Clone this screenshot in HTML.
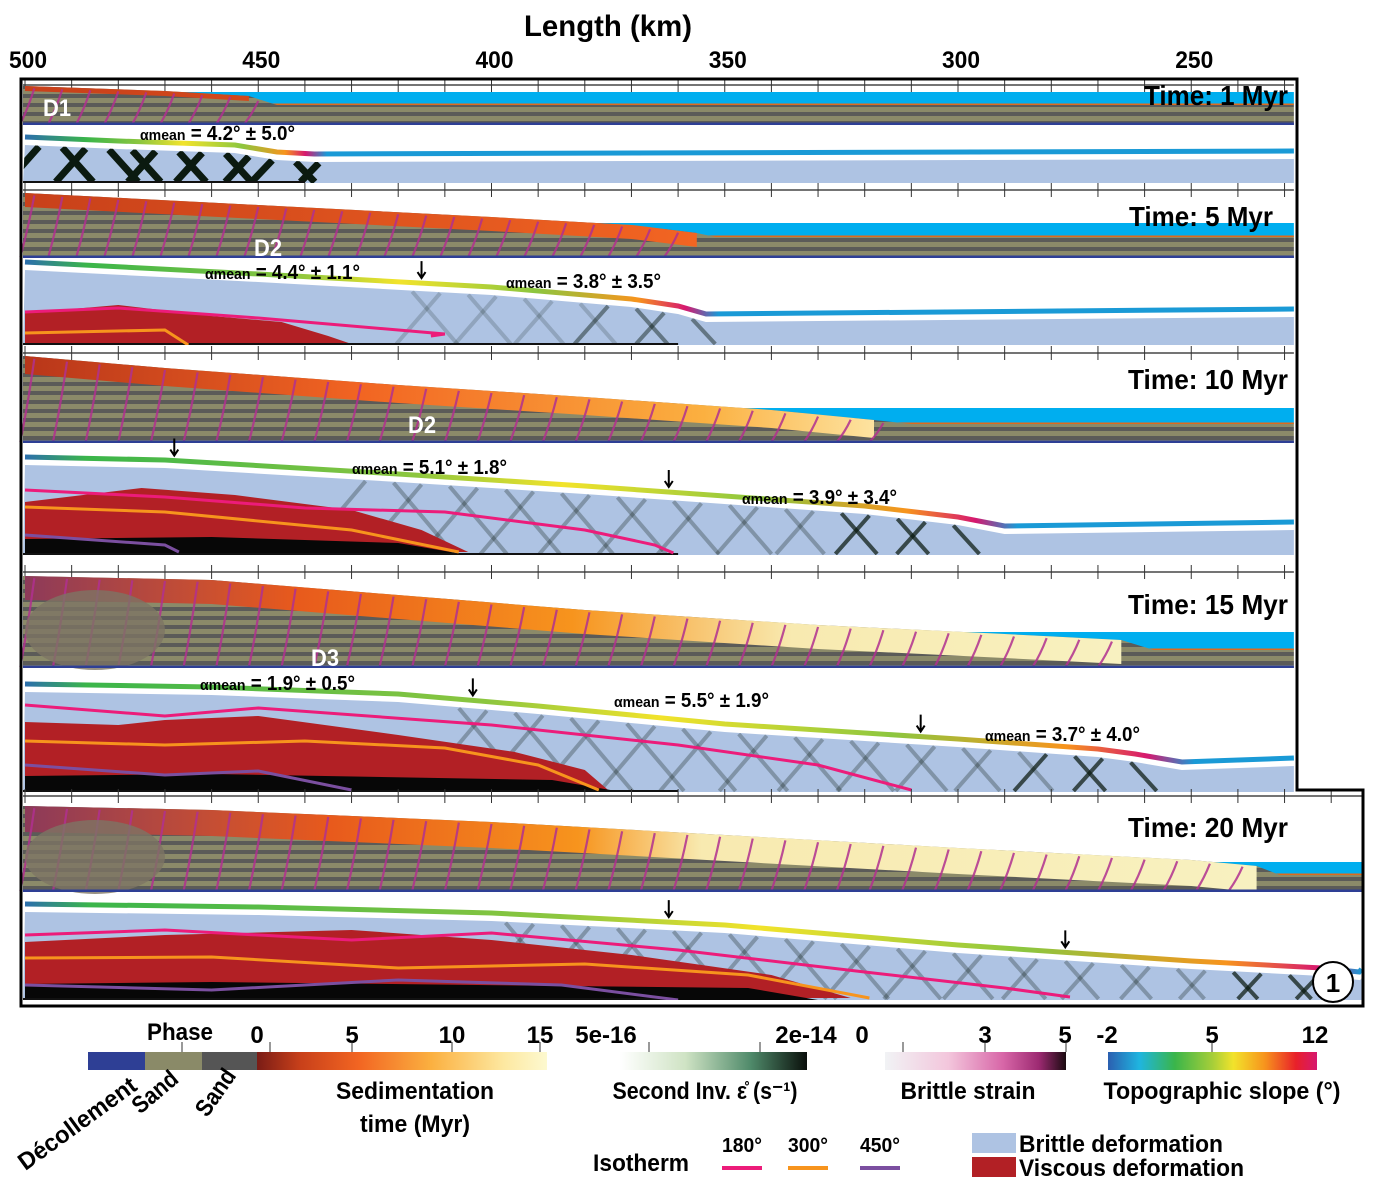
<!DOCTYPE html>
<html><head><meta charset="utf-8"><style>
html,body{margin:0;padding:0;background:#fff;}
svg{display:block;}
text{font-family:"Liberation Sans",sans-serif;font-weight:bold;}
</style></head><body>
<svg id="fig" width="1378" height="1189" viewBox="0 0 1378 1189" xmlns="http://www.w3.org/2000/svg">
<defs>
<pattern id="strata" width="40" height="9" patternUnits="userSpaceOnUse">
<rect width="40" height="9" fill="#8b8a69"/><rect y="4" width="40" height="4" fill="#5b5b58"/>
</pattern>
<linearGradient id="sedGrad" x1="0" x2="1" y1="0" y2="0">
<stop offset="0" stop-color="#7a1c16"/><stop offset="0.15" stop-color="#c8401a"/><stop offset="0.35" stop-color="#f26522"/><stop offset="0.6" stop-color="#fbb040"/><stop offset="0.85" stop-color="#fde8a0"/><stop offset="1" stop-color="#fdf9d0"/>
</linearGradient>
<linearGradient id="srGrad" x1="0" x2="1"><stop offset="0" stop-color="#fff"/><stop offset="0.35" stop-color="#cfe3c4"/><stop offset="0.7" stop-color="#4f8a6a"/><stop offset="1" stop-color="#0a0f0b"/></linearGradient>
<linearGradient id="bsGrad" x1="0" x2="1"><stop offset="0" stop-color="#f1f3f5"/><stop offset="0.35" stop-color="#f3c6dc"/><stop offset="0.65" stop-color="#d867a8"/><stop offset="0.85" stop-color="#9d2a72"/><stop offset="1" stop-color="#1a0a10"/></linearGradient>
<linearGradient id="tsGrad" x1="0" x2="1"><stop offset="0" stop-color="#2b5fb0"/><stop offset="0.15" stop-color="#1fb5e0"/><stop offset="0.32" stop-color="#3ab54a"/><stop offset="0.5" stop-color="#a6ce39"/><stop offset="0.6" stop-color="#f2e32b"/><stop offset="0.75" stop-color="#f7941d"/><stop offset="0.9" stop-color="#e8202a"/><stop offset="1" stop-color="#d6186f"/></linearGradient>
</defs>
<g id="panels"></g>
<g id="legend"></g>
</svg>
<script>
// ---- data ----
const kmTicks = [500, 450, 400, 350, 300, 250];
const timeLabels = ["Time: 1 Myr", "Time: 5 Myr", "Time: 10 Myr", "Time: 15 Myr", "Time: 20 Myr"];
const upperTopo1 = [[500,86],[470,91],[452,96],[446,105]];
const upperTopo2 = [[500,193],[450,205],[400,217],[370,225],[356,233],[352,237]];
const upperTopo3 = [[500,356],[470,368],[420,385],[380,397],[340,410],[318,420],[310,424]];
const upperTopo4 = [[500,576],[460,580],[420,595],[380,610],[330,625],[290,634],[265,640],[258,650]];
const upperTopo5 = [[500,806],[460,810],[400,822],[350,835],[300,848],[250,860],[236,866],[231,875]];
const lowerSurf1 = [[500,143],[480,147],[455,151],[446,158],[438,160]];
const lowerSurf2 = [[500,268],[450,280],[400,293],[370,305],[360,312],[354,320]];
const lowerSurf3 = [[500,463],[470,466],[420,480],[380,492],[320,512],[300,523],[290,532]];
const lowerSurf4 = [[500,690],[460,693],[420,700],[390,712],[350,730],[300,745],[270,755],[262,760],[252,768]];
const lowerSurf5 = [[500,910],[450,913],[400,919],[350,931],[300,951],[250,967],[222,974],[214,978]];
const alphaLabels = [
 [["4.2° ± 5.0°",140,140]],
 [["4.4° ± 1.1°",205,279],["3.8° ± 3.5°",506,288]],
 [["5.1° ± 1.8°",352,474],["3.9° ± 3.4°",742,504]],
 [["1.9° ± 0.5°",200,690],["5.5° ± 1.9°",614,707],["3.7° ± 4.0°",985,741]],
 []];
const arrowKm = [[], [415], [468, 362], [404, 308], [362, 277]];
const isoPink = [null, [[500,312],[480,308],[450,318],[410,334],[413,336]],
 [[500,490],[470,497],[440,508],[410,512],[380,530],[365,545],[361,553]],
 [[500,705],[470,716],[450,708],[400,725],[360,745],[330,765],[310,790]],
 [[500,935],[470,930],[430,940],[400,933],[360,950],[320,972],[290,988],[276,997]]];
const isoOrange = [null, [[500,333],[470,330],[465,345]],
 [[500,507],[470,512],[430,530],[407,552]],
 [[500,741],[470,745],[440,741],[410,748],[390,765],[377,790]],
 [[500,958],[460,957],[420,968],[380,964],[345,975],[319,998]]];
const isoPurple = [null, null, [[500,535],[470,545],[467,552]],
 [[500,765],[470,775],[450,771],[430,790]],
 [[500,985],[460,990],[420,980],[385,985],[360,1000]]];
const viscousPoly = [null, [[500,313],[480,305],[460,316],[445,322],[435,336],[430,344],[500,344]],
 [[500,502],[475,488],[455,495],[430,510],[415,530],[405,552],[500,552]],
 [[500,722],[480,725],[470,720],[450,716],[420,735],[395,752],[380,770],[375,790],[500,790]],
 [[500,942],[470,935],[430,930],[400,940],[370,955],[340,975],[323,998],[500,998]]];
const blackEnd = [null, null, 405, 372, 330];
const strainRange = [[500,432,1],[420,352,0.5],[430,300,0.8],[410,258,0.8],[400,220,0.8]];
// ---- geometry ----
const X = km => 25 + (500 - km) * 4.665;
const panelGeom = [
 {tick:85, wTop:92, lTop:105, uBot:125, lBot:183, flatY:157, rightKm:228},
 {tick:190, wTop:223, lTop:237, uBot:258, lBot:345, flatY:315, rightKm:228},
 {tick:353, wTop:408, lTop:424, uBot:443, lBot:555, flatY:528, rightKm:228},
 {tick:572, wTop:632, lTop:650, uBot:668, lBot:792, flatY:764, rightKm:228},
 {tick:796, wTop:862, lTop:875, uBot:892, lBot:1000, flatY:975, rightKm:213.5}];
const upperTopos=[upperTopo1,upperTopo2,upperTopo3,upperTopo4,upperTopo5];
const lowerSurfs=[lowerSurf1,lowerSurf2,lowerSurf3,lowerSurf4,lowerSurf5];
const capH=[5,14,18,24,26];
const NS="http://www.w3.org/2000/svg";
function mk(tag, attrs, parent){const e=document.createElementNS(NS,tag);for(const k in attrs)e.setAttribute(k,attrs[k]);parent.appendChild(e);return e;}
const P=document.getElementById('panels'), L=document.getElementById('legend');
const defs=document.querySelector('defs');
const pts = arr => arr.map(p=>X(p[0]).toFixed(1)+","+p[1]).join(" ");

let t=mk('text',{x:608,y:36,'font-size':30,'text-anchor':'middle',textLength:168,lengthAdjust:'spacingAndGlyphs'},P);t.textContent="Length (km)";


kmTicks.forEach(k=>{const e=mk('text',{x:X(k)+3,y:68,'font-size':24,'text-anchor':'middle',textLength:38,lengthAdjust:'spacingAndGlyphs'},P);e.textContent=k;

});

function yAt(line,k){let y0=line[0][1];for(let j=1;j<line.length;j++){if(k>=line[j][0]){const a=line[j-1],b=line[j];return a[1]+(b[1]-a[1])*(a[0]-k)/(a[0]-b[0]);}}return line[line.length-1][1];}

panelGeom.forEach((g,i)=>{
 const grp=mk('g',{},P);
 
 
 const xr=X(g.rightKm), xl=23;
 const topo=upperTopos[i], surf=lowerSurfs[i];
 mk('line',{x1:xl,x2:xr,y1:g.tick,y2:g.tick,stroke:'#222','stroke-width':1.2},grp);
 for(let k=500;k>=g.rightKm;k-=10){const x=X(k);mk('line',{x1:x,x2:x,y1:g.tick-7,y2:g.tick+7,stroke:'#333','stroke-width':1},grp);}
 mk('rect',{x:xl,y:g.wTop,width:xr-xl,height:g.lTop-g.wTop,fill:'#00aeef'},grp);
 mk('rect',{x:xl,y:g.lTop,width:xr-xl,height:g.uBot-g.lTop,fill:'url(#strata)'},grp);
 mk('rect',{x:xl,y:g.lTop-1.5,width:xr-xl,height:1.5,fill:'#e06a1c'},grp);
 const wp=pts(topo)+" "+X(topo[topo.length-1][0])+","+g.uBot+" "+xl+","+g.uBot+" "+xl+","+topo[0][1];
 mk('polygon',{points:wp,fill:'url(#strata)'},grp);
 const capTop=topo.slice(0,-1), ch=capH[i];
 const capPts=pts(capTop)+" "+capTop.slice().reverse().map(p=>X(p[0]).toFixed(1)+","+(p[1]+ch)).join(" ");
 const gid='cap'+i;const lg=mk('linearGradient',{id:gid,gradientUnits:'userSpaceOnUse',x1:xl,x2:X(capTop[capTop.length-1][0]),y1:0,y2:0},defs);
 const cstops=[[['#c8401a',0],['#d2491c',1]],[['#c8401a',0],['#f26522',1]],[['#b8361a',0],['#f26522',0.4],['#fbb040',0.8],['#fde3a0',1]],[['#8c3a5a',0],['#e85a1c',0.25],['#f7941d',0.5],['#f8eab0',0.7],['#f8f1c0',1]],[['#8c3a5a',0],['#e85a1c',0.25],['#f7941d',0.45],['#f8eab0',0.55],['#f8f1c0',1]]][i];
 cstops.forEach(s=>mk('stop',{offset:s[1],'stop-color':s[0]},lg));
 mk('polygon',{points:capPts,fill:'url(#'+gid+')'},grp);
 const endKm=topo[topo.length-1][0];
 for(let k=498;k>endKm+3;k-=(i<2?6:7)){
  const y0=yAt(topo,k);
  mk('path',{d:`M${X(k)},${y0+2} q-6,${(g.uBot-y0)/2} -14,${g.uBot-y0-3}`,stroke:'#b0308f','stroke-width':2.2,fill:'none',opacity:0.85},grp);
 }
 if(i>=3){mk('ellipse',{cx:X(485),cy:(topo[0][1]+g.uBot)/2+8,rx:70,ry:(g.uBot-topo[0][1])/2-6,fill:'#7d7464',opacity:0.8},grp);}
 mk('rect',{x:xl,y:g.uBot-2.5,width:xr-xl,height:2.5,fill:'#2e3f95'},grp);
 // lower section
 const lsurf=surf.concat([[g.rightKm,g.flatY]]);
 const lowerPts=pts(lsurf)+" "+xr+","+g.lBot+" "+xl+","+g.lBot;
 const cp=mk('clipPath',{id:'clip'+i},defs);mk('polygon',{points:lowerPts},cp);
 mk('polygon',{points:lowerPts,fill:'#aec3e3'},grp);
 const lg2=mk('g',{'clip-path':'url(#clip'+i+')'},grp);
 const sr=strainRange[i];
 for(let k=sr[0]-3;k>sr[1];k-=(i==0?5:6)){
  const y0=yAt(lsurf,k);
  const h=g.lBot-y0, dir=((Math.round(k/6))%2==0)?1:-1;
  mk('line',{x1:X(k),y1:y0+3,x2:X(k)+dir*h*0.8,y2:g.lBot-1,stroke:'#0b1a10','stroke-width':i==0?7:4,opacity:sr[2]*(i==0?1:(k>sr[1]+25?0.35:0.9))},lg2);
 }
 if(viscousPoly[i]){mk('polygon',{points:pts(viscousPoly[i]),fill:'#b22025'},lg2);}
 if(blackEnd[i]){const be=blackEnd[i];mk('polygon',{points:pts([[500,g.lBot-16],[460,g.lBot-18],[be+15,g.lBot-12],[be,g.lBot],[500,g.lBot]]),fill:'#070707'},lg2);}
 mk('rect',{x:xl,y:g.lBot-2,width:X(i==0?440:360)-xl,height:2,fill:'#111'},lg2);
 [[isoPink,'#ec1c7a'],[isoOrange,'#f7941d'],[isoPurple,'#7b4fa0']].forEach(([arr,c])=>{if(arr[i])mk('polyline',{points:pts(arr[i]),fill:'none',stroke:c,'stroke-width':3},lg2);});
 mk('polyline',{points:pts(lsurf),fill:'none',stroke:'#fff','stroke-width':4},grp);
 const sg='slope'+i;const sl=mk('linearGradient',{id:sg,gradientUnits:'userSpaceOnUse',x1:xl,x2:xr,y1:0,y2:0},defs);
 const ex=(X(surf[surf.length-1][0])-xl)/(xr-xl);
 [['#2b6cb0',0],['#3ab54a',0.05],['#8cc63f',ex*0.4],['#f2e32b',ex*0.55],['#8cc63f',ex*0.75],['#f7941d',ex*0.9],['#d6186f',ex*0.97],['#1a9ad6',ex+0.01],['#1a9ad6',1]].forEach(s=>mk('stop',{offset:Math.min(1,s[1]),'stop-color':s[0]},sl));
 mk('polyline',{points:lsurf.map(p=>X(p[0]).toFixed(1)+","+(p[1]-6)).join(" "),fill:'none',stroke:'url(#'+sg+')','stroke-width':5},grp);
 const tl=mk('text',{x:i==1?1273:1288,y:[105,226,389,614,837][i],'font-size':28,'text-anchor':'end',textLength:(i<2?144:160),lengthAdjust:'spacingAndGlyphs'},grp);tl.textContent=timeLabels[i];
 
 
 alphaLabels[i].forEach(a=>{const tx=mk('text',{x:a[1],y:a[2],'font-size':20,textLength:155,lengthAdjust:'spacingAndGlyphs'},grp);
  const s1=mk('tspan',{'font-size':15},tx);s1.textContent="αmean";const s2=mk('tspan',{},tx);s2.textContent=" = "+a[0];
  
  });
 arrowKm[i].forEach(k=>{const ay=yAt(lsurf,k);
  const ar=mk('path',{d:`M${X(k)},${ay-28} V${ay-12} M${X(k)-4},${ay-17} L${X(k)},${ay-11} L${X(k)+4},${ay-17}`,stroke:'#000','stroke-width':2,fill:'none'},grp);
  
  });
});
[["D1",43,116],["D2",254,256],["D2",408,433],["D3",311,666]].forEach(d=>{const e=mk('text',{x:d[1],y:d[2],'font-size':24,fill:'#fff',textLength:28,lengthAdjust:'spacingAndGlyphs'},P);e.textContent=d[0];

});
const fr=mk('path',{d:'M21,79 H1297 V790 H1363 V1006 H21 Z',fill:'none',stroke:'#000','stroke-width':3},P);


mk('circle',{cx:1333,cy:982,r:20,fill:'#fff',stroke:'#000','stroke-width':2},P);
const c1=mk('text',{x:1333,y:992,'font-size':26,'font-weight':'normal','text-anchor':'middle'},P);c1.textContent="1";



// legend
function txt(s,x,y,fs,anchor,extra){const e=mk('text',Object.assign({x:x,y:y,'font-size':fs,'text-anchor':anchor||'middle'},extra||{}),L);e.textContent=s;return e;}
mk('rect',{x:88,y:1052,width:57,height:18,fill:'#2e3f95'},L);
mk('rect',{x:145,y:1052,width:57,height:18,fill:'#8a8a68'},L);
mk('rect',{x:202,y:1052,width:55,height:18,fill:'#555'},L);
mk('rect',{x:257,y:1052,width:290,height:18,fill:'url(#sedGrad)'},L);
mk('rect',{x:620,y:1052,width:187,height:18,fill:'url(#srGrad)'},L);
mk('rect',{x:885,y:1052,width:181,height:18,fill:'url(#bsGrad)'},L);
mk('rect',{x:1108,y:1052,width:209,height:18,fill:'url(#tsGrad)'},L);
let e;
e=txt("Phase",180,1040,24,'middle',{textLength:66,lengthAdjust:'spacingAndGlyphs'});
[["0",257],["5",352],["10",452],["15",540],["5e-16",606],["2e-14",806],["0",862],["3",985],["5",1065],["-2",1107],["5",1212],["12",1315]].forEach(a=>{e=txt(a[0],a[1],1043,24);

});
[182,270,352,452,540,649,760,903,985,1066,1212].forEach(x=>mk('line',{x1:x,x2:x,y1:1042,y2:1052,stroke:'#333','stroke-width':1},L));
e=txt("Décollement",82,1130,24,'middle',{transform:'rotate(-36 82 1130)',textLength:140,lengthAdjust:'spacingAndGlyphs'});
e=txt("Sand",160,1098,24,'middle',{transform:'rotate(-40 160 1098)',textLength:52,lengthAdjust:'spacingAndGlyphs'});
e=txt("Sand",222,1097,24,'middle',{transform:'rotate(-55 222 1097)',textLength:52,lengthAdjust:'spacingAndGlyphs'});
e=txt("Sedimentation",415,1099,24,'middle',{textLength:158,lengthAdjust:'spacingAndGlyphs'});
e=txt("time (Myr)",415,1132,24,'middle',{textLength:110,lengthAdjust:'spacingAndGlyphs'});
e=txt("Second Inv. ε̊ (s⁻¹)",705,1099,24,'middle',{textLength:185,lengthAdjust:'spacingAndGlyphs'});
e=txt("Brittle strain",968,1099,24,'middle',{textLength:135,lengthAdjust:'spacingAndGlyphs'});
e=txt("Topographic slope (°)",1222,1099,24,'middle',{textLength:237,lengthAdjust:'spacingAndGlyphs'});
e=txt("Isotherm",641,1171,24,'middle',{textLength:96,lengthAdjust:'spacingAndGlyphs'});
[["180°",742,'#ec1c7a'],["300°",808,'#f7941d'],["450°",880,'#7b4fa0']].forEach(a=>{e=txt(a[0],a[1],1152,20,'middle',{textLength:40,lengthAdjust:'spacingAndGlyphs'});


mk('rect',{x:a[1]-20,y:1166,width:40,height:4,fill:a[2]},L);});
mk('rect',{x:972,y:1133,width:44,height:20,fill:'#aec3e3'},L);
mk('rect',{x:972,y:1157,width:44,height:20,fill:'#b22025'},L);
e=txt("Brittle deformation",1019,1152,24,'start',{textLength:204,lengthAdjust:'spacingAndGlyphs'});
e=txt("Viscous deformation",1019,1176,24,'start',{textLength:225,lengthAdjust:'spacingAndGlyphs'});
</script>
</body></html>
